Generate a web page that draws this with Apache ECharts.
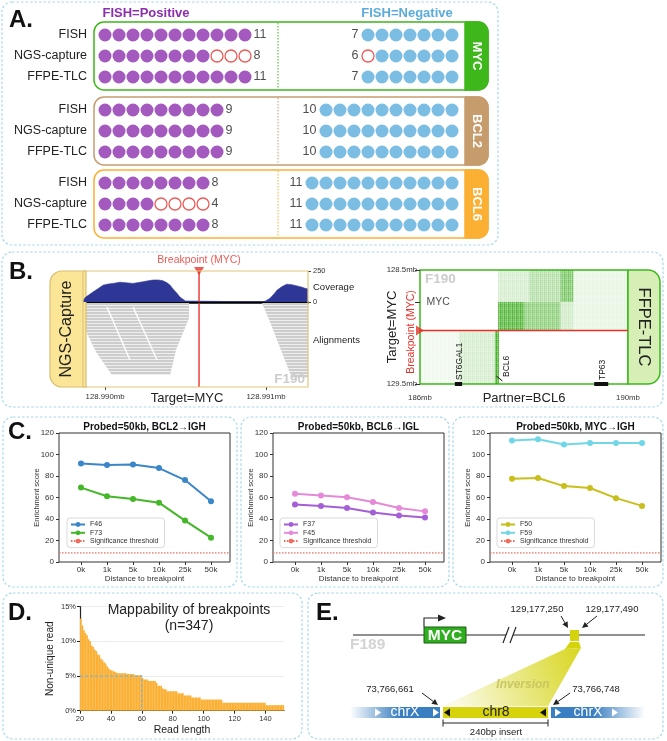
<!DOCTYPE html>
<html>
<head>
<meta charset="utf-8">
<title>Breakpoint detection figure</title>
<script src="https://cdn.jsdelivr.net/npm/echarts@6.0.0/dist/echarts.min.js"></script>
<style>
html,body{margin:0;padding:0;background:#fff;}
#chart{width:667px;height:741px;}
</style>
</head>
<body>
<div id="chart"></div>
<script>
// ===================== DATA =====================
// Panel A: FISH-validated cases per gene and calls by each method
const genes = ['MYC', 'BCL2', 'BCL6'];
const methods = ['FISH', 'NGS-capture', 'FFPE-TLC'];
const fishPositive = [11, 9, 8];
const fishNegative = [7, 10, 11];
const posCallsMYC = [11, 8, 11];
const posCallsBCL2 = [9, 9, 9];
const posCallsBCL6 = [8, 4, 8];
const negCallsMYC = [7, 6, 7];
const negCallsBCL2 = [10, 10, 10];
const negCallsBCL6 = [11, 11, 11];

// Panel B (left): NGS-capture, positions in bp relative to chr8:128,990,000
const igvWindow = [-137, 1261];
const igvTickPos = [0, 1000];
const igvTickLabels = ['128.990mb', '128.991mb'];
const covPos = [-137, -120, -95, -75, -40, -12, 20, 50, 93, 130, 174, 210, 236, 270, 298, 330, 360, 385, 404, 425, 447, 465, 484, 500, 509, 981, 1000, 1025, 1050, 1068, 1100, 1130, 1160, 1193, 1220, 1242, 1261];
const covDepth = [10, 40, 62, 81, 110, 136, 145, 150, 160, 155, 150, 158, 163, 172, 177, 178, 171, 155, 136, 100, 70, 40, 22, 8, 0, 0, 10, 30, 65, 95, 125, 144, 140, 130, 120, 111, 105];
const covTicks = [0, 250];
const breakpointMYC = 584;
const alignDepthMax = 84;
const alignBandLeft = [[-137, 0], [522, 0], [522, 15], [441, 47], [404, 72], [43, 72], [-56, 49], [-137, 22]];
const alignBandRight = [[975, 0], [1261, 0], [1261, 75], [1161, 75], [1093, 47], [1025, 19]];
const alignGapLines = [[[12, 4], [155, 57]], [[174, 4], [323, 57]]];

// Panel B (right): FFPE-TLC
const tlcX = [186, 190];
const tlcY = [128.5, 129.5];
const tlcBreakpoint = 129.03;
const tlcTargetGene = 'MYC';
const tlcTargetPos = 128.78;
const partnerGenes = ['ST6GAL1', 'BCL6', 'TP63'];
const partnerStart = [186.67, 187.45, 189.35];
const partnerEnd = [186.81, 187.45, 189.62];
// [x0, x1, y0, y1, density]
const tlcBlocks = [
  [187.50, 188.10, 128.50, 128.78, 0.22],
  [188.10, 188.70, 128.50, 128.78, 0.40],
  [188.70, 188.95, 128.50, 128.78, 0.70],
  [188.95, 190.00, 128.50, 129.03, 0.12],
  [187.50, 188.00, 128.78, 129.03, 0.90],
  [188.00, 188.70, 128.78, 129.03, 0.60],
  [188.70, 188.95, 128.78, 129.03, 0.25],
  [186.00, 186.75, 129.03, 129.50, 0.08],
  [186.75, 187.44, 129.03, 129.50, 0.22],
  [187.44, 187.52, 129.03, 129.50, 0.95]
];

// Panel C: enrichment score vs distance to breakpoint
const distLabels = ['0k', '1k', '5k', '10k', '25k', '50k'];
const f46 = [91.7, 90.2, 90.8, 87.4, 76.2, 56.6];
const f73 = [69.2, 61.2, 58.5, 55.2, 38.5, 22.6];
const f37 = [53.4, 52.1, 50.2, 46.1, 43.3, 41.4];
const f45 = [63.5, 61.9, 60.3, 55.9, 50.2, 47.1];
const f50 = [77.5, 78.1, 70.6, 68.8, 59.4, 52.2];
const f59 = [113.1, 114.1, 109.4, 110.6, 110.6, 110.6];
const sigThreshold = 8.5;
const cTitles = ['Probed=50kb, BCL2\u2192IGH', 'Probed=50kb, BCL6\u2192IGL', 'Probed=50kb, MYC\u2192IGH'];

// Panel D: mappability (read length 20..151)
const readLenStart = 20;
const nonUniquePct = [
  13.3, 12.3, 11.6, 11.2, 10.9, 10.3, 10.0, 9.4, 9.2, 8.8,
  8.6, 8.1, 8.0, 7.5, 7.3, 7.0, 6.8, 6.4, 6.1, 5.9,
  5.8, 5.7, 5.6, 5.5, 5.4, 5.4, 5.4, 5.4, 5.4, 5.4,
  5.3, 5.3, 5.3, 5.3, 5.3, 5.1, 5.1, 5.1, 5.1, 5.1,
  4.7, 4.5, 4.5, 4.5, 4.3, 4.3, 4.3, 4.3, 4.3, 4.0,
  3.6, 3.6, 3.6, 3.2, 3.1, 3.1, 2.8, 2.8, 2.8, 2.8,
  2.8, 2.8, 2.8, 2.5, 2.5, 2.5, 2.5, 2.2, 2.2, 2.2,
  2.2, 2.2, 1.9, 1.9, 1.9, 1.9, 1.9, 1.9,
  1.6, 1.6, 1.6, 1.6, 1.6, 1.6, 1.6, 1.6, 1.6, 1.6, 1.6, 1.6, 1.6, 1.6,
  1.15, 1.15, 1.15, 1.15, 1.15, 1.15, 1.15, 1.15, 1.15, 1.15,
  1.15, 1.15, 1.15, 1.15, 1.15, 1.15, 1.15, 1.15, 1.15, 1.15,
  1.15, 1.15, 1.15, 1.15, 1.15, 1.15, 1.15, 1.15,
  0.8, 0.8, 0.8, 0.8, 0.8, 0.8, 0.8, 0.8, 0.8, 0.8, 0.8, 0.8
];
const readLenMax = 152;
const readTicks = [20, 40, 60, 80, 100, 120, 140];
const pctTicks = [0, 5, 10, 15];
const cutoffRead = 60;
const cutoffPct = 5;
const nBreakpoints = 347;

// ===================== BUILD =====================
const FF = '"Liberation Sans", Arial, Helvetica, sans-serif';
const RED = '#e8312a';
const grids = [], xAxes = [], yAxes = [], series = [], legends = [], G = [];

function addAxes(g, xa, ya) {
  const i = grids.length;
  grids.push(Object.assign({containLabel: false}, g));
  xAxes.push(Object.assign({gridIndex: i, nameMoveOverlap: false}, xa));
  yAxes.push(Object.assign({gridIndex: i, nameMoveOverlap: false}, ya));
  return i;
}
function T(x, y, text, o) {
  o = o || {};
  const al = o.align || 'center', va = o.va || 'middle';
  return {type: 'text', x: x, y: y, rotation: o.rot || 0, z: o.z || 20, silent: true,
    style: {text: text, fill: o.color || '#222',
      font: (o.fs || 'normal') + ' ' + (o.weight || 'normal') + ' ' + (o.size || 12) + 'px ' + FF,
      align: al, verticalAlign: va, textAlign: al, textVerticalAlign: va}};
}
function RECT(x, y, w, h, style, r, z) {
  return {type: 'rect', shape: {x: x, y: y, width: w, height: h, r: r || 0}, style: style, z: z || 5, silent: true};
}
function LINE(x1, y1, x2, y2, stroke, lw, dash, z) {
  return {type: 'line', shape: {x1: x1, y1: y1, x2: x2, y2: y2}, style: {stroke: stroke, lineWidth: lw || 1, lineDash: dash || null}, z: z || 6, silent: true};
}
function POLY(points, fill, z, stroke) {
  return {type: 'polygon', shape: {points: points}, style: {fill: fill, stroke: stroke || null}, z: z || 6, silent: true};
}
function ARROW(x1, y1, x2, y2, color) {
  const a = Math.atan2(y2 - y1, x2 - x1), L = 6, W = 3;
  const bx = x2 - L * Math.cos(a), by = y2 - L * Math.sin(a);
  return [LINE(x1, y1, bx, by, color || '#222', 1),
    POLY([[x2, y2], [bx + W * Math.sin(a), by - W * Math.cos(a)], [bx - W * Math.sin(a), by + W * Math.cos(a)]], color || '#222')];
}
function TRI(cx, cy, dir, color) {
  const w = 3, h = 4;
  return POLY(dir > 0 ? [[cx - w, cy - h], [cx + w, cy], [cx - w, cy + h]] : [[cx + w, cy - h], [cx - w, cy], [cx + w, cy + h]], color, 8);
}
function dashedBox(x, y, w, h) {
  G.push(RECT(x, y, w, h, {fill: 'none', stroke: '#a7d7ec', lineWidth: 1.2, lineDash: [2.5, 2]}, 10, 1));
}
function makePattern(w, h, draw) {
  const c = document.createElement('canvas'); c.width = w; c.height = h;
  draw(c.getContext('2d')); return c;
}
const readPat = makePattern(4, 3, ctx => {
  ctx.fillStyle = '#cdcdcd'; ctx.fillRect(0, 0, 4, 2);
  ctx.fillStyle = '#eeeeee'; ctx.fillRect(0, 2, 4, 1);
});
const greenCols = [1, 0.7, 0.9, 0.6, 1, 0.75, 0.85, 0.65];
const greenRows = [1, 0.85, 0.95, 0.8, 1, 0.9];
const greenPat = makePattern(8, 6, ctx => {
  for (let c = 0; c < 8; c++) for (let r = 0; r < 6; r++) {
    ctx.fillStyle = 'rgba(52,170,20,' + (greenCols[c] * greenRows[r]).toFixed(2) + ')';
    ctx.fillRect(c, r, 1, 1);
  }
});

// ---------- Panel boxes & letters ----------
dashedBox(2, 2, 496, 243);
dashedBox(2, 252, 661, 155);
dashedBox(3, 417, 234, 170);
dashedBox(241, 417, 208, 170);
dashedBox(453, 417, 210, 170);
dashedBox(3, 593, 299, 146);
dashedBox(308, 593, 355, 146);
G.push(T(9, 20, 'A.', {size: 24, weight: 'bold', align: 'left', color: '#111'}));
G.push(T(9, 272, 'B.', {size: 24, weight: 'bold', align: 'left', color: '#111'}));
G.push(T(8, 432, 'C.', {size: 24, weight: 'bold', align: 'left', color: '#111'}));
G.push(T(8, 613, 'D.', {size: 24, weight: 'bold', align: 'left', color: '#111'}));
G.push(T(316, 613, 'E.', {size: 24, weight: 'bold', align: 'left', color: '#111'}));

// ---------- Panel A ----------
const PURPLE = '#8c2fae', BLUE = '#5aacdc';
const groupTop = [24.5, 99.5, 172.5];
const groupColor = ['#3db71a', '#c69c6d', '#fbb034'];
const posCalls = [posCallsMYC, posCallsBCL2, posCallsBCL6];
const negCalls = [negCallsMYC, negCallsBCL2, negCallsBCL6];
G.push(T(146, 13, 'FISH=Positive', {size: 13, weight: 'bold', color: PURPLE}));
G.push(T(407, 13, 'FISH=Negative', {size: 13, weight: 'bold', color: BLUE}));

genes.forEach((g, gi) => {
  const by = groupTop[gi] - 2.5, bh = 68, col = groupColor[gi];
  G.push(RECT(94, by, 394, bh, {fill: 'none', stroke: col, lineWidth: 1.5}, 10, 3));
  G.push(RECT(465, by, 23, bh, {fill: col, stroke: col, lineWidth: 1.5}, [0, 10, 10, 0], 4));
  G.push(T(476.5, by + bh / 2, g, {size: 13, weight: 'bold', color: '#fff', rot: -Math.PI / 2}));
  G.push(LINE(278, by + 1, 278, by + bh - 1, col, 1, [1.5, 1.5], 3));

  // positive side
  const ip = addAxes({left: 98, top: groupTop[gi], width: 168, height: 63},
    {type: 'value', min: -0.5, max: 11.5, show: false},
    {type: 'category', data: methods, inverse: true, axisLine: {show: false, onZero: false}, axisTick: {show: false},
     axisLabel: {fontSize: 12.5, color: '#222', margin: 11, fontFamily: FF}});
  const pf = [], pe = [], pl = [];
  methods.forEach((m, r) => {
    const n = posCalls[gi][r], slots = fishPositive[gi];
    for (let k = 0; k < slots; k++) (k < n ? pf : pe).push([k, r]);
    pl.push({value: [slots - 1, r], n: n});
  });
  series.push({type: 'scatter', xAxisIndex: ip, yAxisIndex: ip, data: pf, symbolSize: 13, clip: false, silent: true, itemStyle: {color: PURPLE}});
  series.push({type: 'scatter', xAxisIndex: ip, yAxisIndex: ip, data: pe, symbolSize: 12, clip: false, silent: true, itemStyle: {color: '#fff', borderColor: RED, borderWidth: 1.3}});
  series.push({type: 'scatter', xAxisIndex: ip, yAxisIndex: ip, data: pl, symbolSize: 13, clip: false, silent: true, z: 5,
    itemStyle: {color: 'rgba(0,0,0,0)'},
    label: {show: true, position: 'right', distance: 2, fontSize: 12.5, color: '#222', fontFamily: FF, formatter: p => String(p.data.n)}});

  // negative side (right-aligned)
  const ineg = addAxes({left: 291, top: groupTop[gi], width: 168, height: 63},
    {type: 'value', min: -11.5, max: 0.5, show: false},
    {type: 'category', data: methods, inverse: true, show: false});
  const nf = [], ne = [], nl = [];
  methods.forEach((m, r) => {
    const n = negCalls[gi][r], slots = fishNegative[gi];
    for (let k = 0; k < slots; k++) (k < n ? nf : ne).push([-k, r]);
    nl.push({value: [-(slots - 1), r], n: n});
  });
  series.push({type: 'scatter', xAxisIndex: ineg, yAxisIndex: ineg, data: nf, symbolSize: 13, clip: false, silent: true, itemStyle: {color: BLUE}});
  series.push({type: 'scatter', xAxisIndex: ineg, yAxisIndex: ineg, data: ne, symbolSize: 12, clip: false, silent: true, itemStyle: {color: '#fff', borderColor: RED, borderWidth: 1.3}});
  series.push({type: 'scatter', xAxisIndex: ineg, yAxisIndex: ineg, data: nl, symbolSize: 13, clip: false, silent: true, z: 5,
    itemStyle: {color: 'rgba(0,0,0,0)'},
    label: {show: true, position: 'left', distance: 3, fontSize: 12.5, color: '#222', fontFamily: FF, formatter: p => String(p.data.n)}});
});

// ---------- Panel B left: NGS-capture ----------
G.push(RECT(50, 271, 36, 116, {fill: '#fbe596', stroke: '#d9be70', lineWidth: 1.2}, [12, 0, 0, 12], 3));
G.push(T(67, 329, 'NGS-Capture', {size: 16, rot: Math.PI / 2}));
G.push(RECT(83, 271, 225, 116, {fill: 'none', stroke: '#dfc67c', lineWidth: 1.2}, 0, 12));
G.push(T(313, 287, 'Coverage', {size: 9.5, align: 'left'}));
G.push(T(313, 340, 'Alignments', {size: 9.5, align: 'left'}));
G.push(T(187, 398, 'Target=MYC', {size: 13}));
G.push(T(305, 379, 'F190', {size: 13.5, weight: 'bold', color: '#cccccc', align: 'right'}));

const ic = addAxes({left: 83, top: 271, width: 225, height: 31},
  {type: 'value', min: igvWindow[0], max: igvWindow[1], axisLine: {show: true, onZero: false, lineStyle: {color: '#000', width: 2.6}}, axisTick: {show: false}, axisLabel: {show: false}, splitLine: {show: false}},
  {type: 'value', position: 'right', min: covTicks[0], max: covTicks[1], splitLine: {show: false}, axisLine: {show: false, onZero: false},
   axisTick: {show: true, length: 3, customValues: covTicks, lineStyle: {color: '#444'}},
   axisLabel: {customValues: covTicks, fontSize: 7.5, color: '#333', margin: 5, fontFamily: FF}});
series.push({type: 'line', xAxisIndex: ic, yAxisIndex: ic, data: covPos.map((p, i) => [p, covDepth[i]]), symbol: 'none', silent: true,
  lineStyle: {color: '#2e3795', width: 0.6}, areaStyle: {color: '#2e3795', opacity: 1}, z: 3});
series.push({type: 'line', xAxisIndex: ic, yAxisIndex: ic, data: [[breakpointMYC, covTicks[0]], [breakpointMYC, covTicks[1]]], symbol: 'none', silent: true,
  lineStyle: {color: RED, width: 1.4}, z: 6});
series.push({type: 'scatter', xAxisIndex: ic, yAxisIndex: ic, data: [[breakpointMYC, covTicks[1]]], symbol: 'triangle', symbolRotate: 180, symbolSize: [10, 8], clip: false, silent: true, z: 7,
  itemStyle: {color: RED},
  label: {show: true, position: 'top', distance: 1, formatter: 'Breakpoint (MYC)', color: RED, fontSize: 10.5, fontFamily: FF}});

const ia = addAxes({left: 83, top: 303, width: 225, height: 84},
  {type: 'value', min: igvWindow[0], max: igvWindow[1], axisLine: {show: false, onZero: false}, splitLine: {show: false},
   axisTick: {show: true, length: 3, customValues: igvTickPos, lineStyle: {color: '#444'}},
   axisLabel: {customValues: igvTickPos, formatter: v => igvTickLabels[igvTickPos.indexOf(v)], fontSize: 7.8, color: '#333', margin: 6, fontFamily: FF}},
  {type: 'value', min: 0, max: alignDepthMax, inverse: true, show: false, axisLine: {onZero: false}});
const alignBands = [alignBandLeft, alignBandRight];
series.push({type: 'custom', xAxisIndex: ia, yAxisIndex: ia, data: alignBands.map(b => [b[0][0], b[0][1]]), encode: {x: 0, y: 1}, silent: true, z: 2,
  renderItem: (params, api) => ({type: 'polygon', shape: {points: alignBands[params.dataIndex].map(p => api.coord(p))}, style: {fill: {image: readPat, repeat: 'repeat'}}})});
series.push({type: 'custom', xAxisIndex: ia, yAxisIndex: ia, data: alignGapLines.map(l => [l[0][0], l[0][1]]), encode: {x: 0, y: 1}, silent: true, z: 3,
  renderItem: (params, api) => {
    const l = alignGapLines[params.dataIndex], a = api.coord(l[0]), b = api.coord(l[1]);
    return {type: 'line', shape: {x1: a[0], y1: a[1], x2: b[0], y2: b[1]}, style: {stroke: '#ffffff', lineWidth: 1.4}};
  }});
series.push({type: 'line', xAxisIndex: ia, yAxisIndex: ia, data: [[breakpointMYC, 0], [breakpointMYC, alignDepthMax]], symbol: 'none', silent: true,
  lineStyle: {color: RED, width: 1.4}, z: 6});

// ---------- Panel B right: FFPE-TLC ----------
G.push(RECT(628, 270, 32, 114, {fill: '#d7efb7', stroke: '#3cb81c', lineWidth: 1.5}, [0, 12, 12, 0], 3));
G.push(T(644, 327, 'FFPE-TLC', {size: 16.5, rot: -Math.PI / 2}));
G.push(T(411, 332, 'Breakpoint (MYC)', {size: 10.5, color: RED, rot: Math.PI / 2}));
G.push(T(425, 279, 'F190', {size: 13.5, weight: 'bold', color: '#cccccc', align: 'left'}));

const ih = addAxes({left: 420, top: 270, width: 208, height: 114, show: true, borderColor: '#3cb81c', borderWidth: 1.5, backgroundColor: 'rgba(0,0,0,0)'},
  {type: 'value', min: tlcX[0], max: tlcX[1], axisLine: {show: false, onZero: false}, axisTick: {show: false}, splitLine: {show: false},
   axisLabel: {customValues: tlcX, formatter: v => v + 'mb', fontSize: 7.8, color: '#333', margin: 10, fontFamily: FF},
   name: 'Partner=BCL6', nameLocation: 'middle', nameGap: 7.5, nameTextStyle: {fontSize: 13, color: '#222', fontFamily: FF}},
  {type: 'value', min: tlcY[0], max: tlcY[1], inverse: true, axisLine: {show: false, onZero: false}, splitLine: {show: false},
   axisTick: {show: true, length: 5, customValues: [tlcY[0], tlcTargetPos, tlcY[1]], lineStyle: {color: '#333'}},
   axisLabel: {customValues: tlcY, formatter: v => v.toFixed(1) + 'mb', fontSize: 7.8, color: '#333', margin: 3, fontFamily: FF},
   name: 'Target=MYC', nameLocation: 'middle', nameGap: 21, nameTextStyle: {fontSize: 13, color: '#222', fontFamily: FF}});
series.push({type: 'custom', xAxisIndex: ih, yAxisIndex: ih, data: tlcBlocks.map(b => [b[0], b[2]]), encode: {x: 0, y: 1}, silent: true, z: 2,
  renderItem: (params, api) => {
    const b = tlcBlocks[params.dataIndex], p0 = api.coord([b[0], b[2]]), p1 = api.coord([b[1], b[3]]);
    return {type: 'rect', shape: {x: p0[0], y: p0[1], width: p1[0] - p0[0], height: p1[1] - p0[1]},
      style: {fill: {image: greenPat, repeat: 'repeat'}, opacity: b[4]}};
  }});
series.push({type: 'line', xAxisIndex: ih, yAxisIndex: ih, data: [[tlcX[0], tlcBreakpoint], [tlcX[1], tlcBreakpoint]], symbol: 'none', silent: true,
  lineStyle: {color: RED, width: 1.5}, z: 6});
series.push({type: 'scatter', xAxisIndex: ih, yAxisIndex: ih, data: [[tlcX[0], tlcBreakpoint]], symbol: 'triangle', symbolRotate: -90, symbolSize: [10, 8], clip: false, silent: true, z: 7,
  itemStyle: {color: RED}});
series.push({type: 'scatter', xAxisIndex: ih, yAxisIndex: ih, data: [[tlcX[0], tlcTargetPos]], symbolSize: 1, clip: false, silent: true, z: 7,
  itemStyle: {color: 'rgba(0,0,0,0)'},
  label: {show: true, position: 'right', distance: 6, formatter: tlcTargetGene, color: '#222', fontSize: 10.5, fontFamily: FF}});
series.push({type: 'custom', xAxisIndex: ih, yAxisIndex: ih, data: partnerGenes.map((g, i) => [partnerStart[i], tlcY[1]]), encode: {x: 0, y: 1}, silent: true, z: 8, clip: false,
  renderItem: (params, api) => {
    const i = params.dataIndex, p0 = api.coord([partnerStart[i], tlcY[1]]), p1 = api.coord([partnerEnd[i], tlcY[1]]);
    const children = [];
    let tx;
    if (p1[0] - p0[0] > 1) {
      children.push({type: 'rect', shape: {x: p0[0], y: p0[1] - 2, width: p1[0] - p0[0], height: 4}, style: {fill: '#111'}});
      tx = (p0[0] + p1[0]) / 2 + 1;
    } else {
      children.push({type: 'line', shape: {x1: p0[0] + 1, y1: p0[1] - 8, x2: p0[0] + 7, y2: p0[1] - 3}, style: {stroke: '#111', lineWidth: 1}});
      tx = p0[0] + 11;
    }
    children.push({type: 'text', x: tx, y: p0[1] - (p1[0] - p0[0] > 1 ? 4 : 7), rotation: Math.PI / 2,
      style: {text: partnerGenes[i], fill: '#111', font: '8.5px ' + FF, align: 'left', verticalAlign: 'middle'}});
    return {type: 'group', children: children};
  }});

// ---------- Panel C ----------
const cLeft = [59, 273, 490];
const legendLeft = [67, 280, 497];
const cSeries = [
  [['F46', f46, '#3a86c8'], ['F73', f73, '#45b72a']],
  [['F37', f37, '#a45fd6'], ['F45', f45, '#e48ad8']],
  [['F50', f50, '#c8bf1c'], ['F59', f59, '#71d7e6']]
];
const cXmin = -0.846, cXmax = 5.73;
const distIdx = distLabels.map((d, i) => i);
cSeries.forEach((pair, p) => {
  const ix = addAxes({left: cLeft[p], top: 433, width: 171, height: 129, show: true, borderColor: '#333', borderWidth: 1, backgroundColor: 'rgba(0,0,0,0)'},
    {type: 'value', min: cXmin, max: cXmax, axisLine: {show: false, onZero: false}, splitLine: {show: false},
     axisTick: {show: true, length: 3, customValues: distIdx, lineStyle: {color: '#333'}},
     axisLabel: {customValues: distIdx, formatter: v => distLabels[Math.round(v)], fontSize: 8, color: '#333', margin: 4, fontFamily: FF},
     name: 'Distance to breakpoint', nameLocation: 'middle', nameGap: 13, nameTextStyle: {fontSize: 8, color: '#333', fontFamily: FF}},
    {type: 'value', min: 0, max: 120, interval: 20, axisLine: {show: false, onZero: false}, splitLine: {show: false},
     axisTick: {show: true, length: 3, lineStyle: {color: '#333'}},
     axisLabel: {fontSize: 8, color: '#333', margin: 5, fontFamily: FF},
     name: 'Enrichment score', nameLocation: 'middle', nameGap: 18, nameTextStyle: {fontSize: 7.5, color: '#333', fontFamily: FF}});
  G.push(T(cLeft[p] + 85.5, 427, cTitles[p], {size: 10, weight: 'bold', color: '#111'}));
  series.push({type: 'line', name: 'Significance threshold', xAxisIndex: ix, yAxisIndex: ix, data: [[cXmin, sigThreshold], [cXmax, sigThreshold]],
    symbol: 'none', silent: true, lineStyle: {color: '#f26b5b', width: 1.2, type: [1.5, 1.5]}, itemStyle: {color: '#f26b5b'}, z: 3});
  pair.forEach(s => {
    series.push({type: 'line', name: s[0], xAxisIndex: ix, yAxisIndex: ix, data: s[1].map((v, i) => [i, v]),
      symbol: 'circle', symbolSize: 6, silent: true, lineStyle: {color: s[2], width: 2}, itemStyle: {color: s[2]}, z: 4});
  });
  legends.push({left: legendLeft[p], top: 518, orient: 'vertical', selectedMode: false,
    data: [pair[0][0], pair[1][0], 'Significance threshold'],
    backgroundColor: '#fff', borderColor: '#cfcfcf', borderWidth: 0.8, borderRadius: 3,
    padding: [3, 6, 3, 3], itemWidth: 14, itemHeight: 6, itemGap: 1.3,
    textStyle: {fontSize: 7, color: '#333', lineHeight: 7, fontFamily: FF}});
});

// ---------- Panel D ----------
G.push(T(189, 610, 'Mappability of breakpoints', {size: 14}));
G.push(T(189, 626, '(n=' + nBreakpoints + ')', {size: 14}));
const idD = addAxes({left: 80, top: 606.7, width: 204, height: 104},
  {type: 'value', min: readLenStart, max: readLenMax, splitLine: {show: false},
   axisLine: {show: true, onZero: false, lineStyle: {color: '#222', width: 1.2}},
   axisTick: {show: true, length: 3, customValues: readTicks, lineStyle: {color: '#222'}},
   axisLabel: {customValues: readTicks, fontSize: 7.5, color: '#333', margin: 4, fontFamily: FF},
   name: 'Read length', nameLocation: 'middle', nameGap: 14, nameTextStyle: {fontSize: 10.5, color: '#222', fontFamily: FF}},
  {type: 'value', min: pctTicks[0], max: pctTicks[pctTicks.length - 1], interval: 5,
   axisLine: {show: true, onZero: false, lineStyle: {color: '#222', width: 1.2}},
   axisTick: {show: true, length: 3, lineStyle: {color: '#222'}},
   axisLabel: {formatter: '{value}%', fontSize: 7.5, color: '#333', margin: 4, fontFamily: FF},
   splitLine: {show: true, lineStyle: {color: '#ececec', width: 1}},
   name: 'Non-unique read', nameLocation: 'middle', nameGap: 25, nameTextStyle: {fontSize: 10, color: '#222', fontFamily: FF}});
series.push({type: 'custom', xAxisIndex: idD, yAxisIndex: idD, data: nonUniquePct.map((v, i) => [readLenStart + i, v]), encode: {x: 0, y: 1}, silent: true, z: 2,
  renderItem: (params, api) => {
    const x = api.value(0), v = api.value(1);
    const p0 = api.coord([x, 0]), p1 = api.coord([x + 1, v]);
    return {type: 'rect', shape: {x: p0[0], y: p1[1], width: p1[0] - p0[0] + 0.15, height: p0[1] - p1[1]}, style: {fill: '#fbb034'}};
  }});
series.push({type: 'line', xAxisIndex: idD, yAxisIndex: idD, data: [[readLenStart, cutoffPct], [cutoffRead, cutoffPct], [cutoffRead, 0]], symbol: 'none', silent: true,
  lineStyle: {color: '#78b3d9', width: 1.2, type: [3, 2]}, z: 4});

// ---------- Panel E (schematic) ----------
G.push(LINE(353, 635, 645, 635, '#222', 1.2, null, 5));
G.push(POLY([[503, 643], [509, 627], [516, 627], [510, 643]], '#fff', 6));
G.push(LINE(503, 643, 509, 627, '#222', 1.2, null, 7));
G.push(LINE(510, 643, 516, 627, '#222', 1.2, null, 7));
G.push(RECT(424, 627, 42, 16, {fill: '#2fae1f', stroke: '#1d5a12', lineWidth: 1}, 0, 7));
G.push(T(445, 635.5, 'MYC', {size: 15.5, weight: 'bold', color: '#fff'}));
G.push({type: 'polyline', shape: {points: [[424, 627], [424, 618], [439, 618]]}, style: {stroke: '#222', lineWidth: 1.1, fill: null}, z: 7, silent: true});
G.push(POLY([[438, 614.5], [446, 618], [438, 621.5]], '#222', 7));
G.push(T(350, 645, 'F189', {size: 15.5, weight: 'bold', color: '#d3d3d3', align: 'left'}));
G.push(RECT(570, 630, 9, 11, {fill: '#d5d40c'}, 0, 7));
G.push(POLY([[570, 642], [579, 642], [581, 648], [565, 649]], '#d5d40c', 6));
G.push(POLY([[565, 649], [581, 648], [548, 706], [443, 706]], {type: 'linear', x: 1, y: 0, x2: 0, y2: 1,
  colorStops: [{offset: 0, color: 'rgba(214,212,20,0.95)'}, {offset: 0.55, color: 'rgba(214,212,20,0.45)'}, {offset: 1, color: 'rgba(214,212,20,0.04)'}]}, 5));
G.push(T(523, 685, 'Inversion', {size: 12, weight: 'bold', fs: 'italic', color: '#c9c860'}));
G.push(T(537, 609, '129,177,250', {size: 9.5}));
G.push(T(612, 609, '129,177,490', {size: 9.5}));
ARROW(561, 616, 568, 628).forEach(e => G.push(e));
ARROW(597, 616, 582, 628).forEach(e => G.push(e));
G.push(RECT(350, 707, 90, 11, {fill: {type: 'linear', x: 0, y: 0, x2: 1, y2: 0,
  colorStops: [{offset: 0, color: 'rgba(58,127,193,0)'}, {offset: 0.55, color: '#3a7fc1'}, {offset: 1, color: '#3a7fc1'}]}}, 0, 7));
G.push(RECT(443, 707, 105, 11, {fill: '#d6d30a'}, 0, 7));
G.push(RECT(551, 707, 94, 11, {fill: {type: 'linear', x: 0, y: 0, x2: 1, y2: 0,
  colorStops: [{offset: 0, color: '#3a7fc1'}, {offset: 0.45, color: '#3a7fc1'}, {offset: 1, color: 'rgba(58,127,193,0)'}]}}, 0, 7));
G.push(T(405, 712.5, 'chrX', {size: 14, color: '#fff', z: 21}));
G.push(T(496, 712.5, 'chr8', {size: 14, color: '#222', z: 21}));
G.push(T(588, 712.5, 'chrX', {size: 14, color: '#fff', z: 21}));
G.push(TRI(378, 712.5, 1, '#fff'));
G.push(TRI(436, 712.5, 1, '#fff'));
G.push(TRI(447, 712.5, -1, '#111'));
G.push(TRI(543, 712.5, -1, '#111'));
G.push(TRI(558, 712.5, 1, '#fff'));
G.push(TRI(615, 712.5, 1, '#fff'));
G.push(T(390, 689, '73,766,661', {size: 9.5}));
G.push(T(596, 689, '73,766,748', {size: 9.5}));
ARROW(422, 693, 438, 705).forEach(e => G.push(e));
ARROW(570, 693, 553, 705).forEach(e => G.push(e));
G.push(LINE(443, 723, 548, 723, '#222', 1));
G.push(LINE(443, 719.5, 443, 726.5, '#222', 1));
G.push(LINE(548, 719.5, 548, 726.5, '#222', 1));
G.push(T(496, 732, '240bp insert', {size: 9.5}));

// ===================== RENDER =====================
const chart = echarts.init(document.getElementById('chart'), null, {renderer: 'canvas', width: 667, height: 741});
chart.setOption({
  animation: false,
  backgroundColor: '#ffffff',
  textStyle: {fontFamily: FF},
  grid: grids,
  xAxis: xAxes,
  yAxis: yAxes,
  legend: legends,
  series: series,
  graphic: {elements: G}
});
</script>
</body>
</html>
